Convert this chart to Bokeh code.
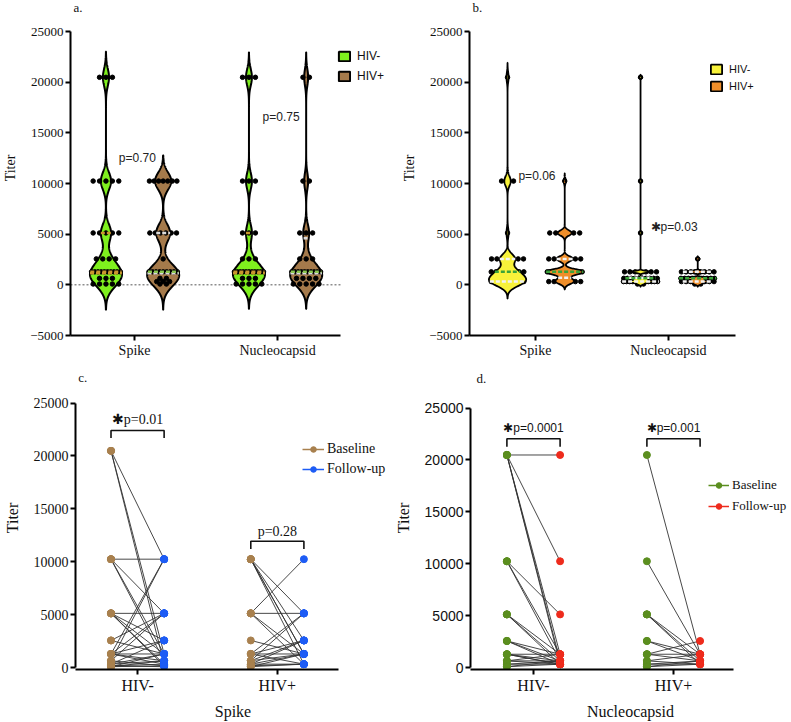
import numpy as np
from bokeh.plotting import figure
from bokeh.layouts import column, row
from bokeh.models import Range1d, FixedTicker, Legend, LegendItem, Label
from bokeh.embed import file_html
from bokeh.resources import INLINE

SERIF = "Liberation Serif"
SANS = "Liberation Sans"

# ------------------------------------------------------------------ data
levels = [80, 320, 640, 1280, 2560, 5120, 10240, 20480]
antigens = ["Spike", "Nucleocapsid"]
hiv_groups = ["HIV-", "HIV+"]
y_ticks_ab = [-5000, 0, 5000, 10000, 15000, 20000, 25000]
y_ticks_cd = [0, 5000, 10000, 15000, 20000, 25000]

# panel a: participants at each titer level (order: levels)
a_spike_neg = [5, 0, 3, 10, 4, 5, 5, 3]
a_spike_pos = [2, 3, 2, 9, 1, 6, 7, 0]
a_nuc_neg = [5, 0, 3, 11, 3, 3, 3, 3]
a_nuc_pos = [5, 0, 4, 10, 3, 3, 2, 2]
a_q1 = [1150, 1150, 1150, 1150]
a_median = [1280, 1280, 1280, 1280]
a_q3 = [5120, 5120, 5120, 4600]
a_bandwidth = [850, 850, 820, 820]
a_pvals = ["p=0.70", "p=0.75"]
a_p_x = [0.89, 1.895]
a_p_y = [12550, 16600]

# panel b
b_spike_neg = [3, 8, 6, 8, 7, 1, 3, 1]
b_spike_pos = [0, 7, 2, 16, 7, 6, 1, 0]
b_nuc_neg = [2, 12, 10, 7, 0, 1, 1, 1]
b_nuc_pos = [2, 8, 10, 8, 1, 0, 0, 0]
b_q1 = [320, 700, 320, 320]
b_median = [1280, 1280, 640, 640]
b_q3 = [2560, 2560, 700, 1280]
b_bandwidth = [480, 260, 90, 90]
b_pvals = ["p=0.06", "\u2731p=0.03"]
b_p_x = [0.872, 1.865]
b_p_y = [10770, 5730]

# panel c: Spike titers, paired baseline -> follow-up
c_neg_base = [20480, 20480, 20480, 10240, 10240, 10240, 10240, 5120, 5120, 5120, 5120, 5120,
              2560, 2560, 1280, 1280, 1280, 1280, 1280, 1280, 640, 640, 640, 320, 320, 320,
              160, 160, 80, 80, 80]
c_neg_fu = [10240, 320, 1280, 10240, 5120, 1280, 640, 5120, 2560, 1280, 320, 160,
            1280, 5120, 1280, 10240, 5120, 2560, 320, 640, 5120, 10240, 160, 2560, 640, 1280,
            320, 80, 1280, 640, 160]
c_pos_base = [10240, 10240, 10240, 10240, 10240, 5120, 5120, 5120, 5120, 2560, 1280, 1280,
              1280, 1280, 640, 640, 640, 320, 320, 320, 160, 80, 80]
c_pos_fu = [5120, 2560, 1280, 320, 1280, 10240, 5120, 320, 1280, 1280, 1280, 2560,
            320, 5120, 5120, 1280, 2560, 1280, 320, 2560, 320, 320, 1280]
c_pvals = ["\u2731p=0.01", "p=0.28"]
c_p_y = [23400, 12870]
c_br_top = [22400, 11940]
c_br_tip = [21700, 11200]

# panel d: Nucleocapsid titers, paired baseline -> follow-up
d_neg_base = [20480, 20480, 20480, 20480, 20480, 10240, 10240, 10240, 5120, 5120, 5120,
              2560, 2560, 2560, 1280, 1280, 1280, 1280, 640, 640, 640, 320, 320, 80, 80]
d_neg_fu = [20480, 10240, 640, 320, 1280, 5120, 640, 1280, 640, 320, 1280,
            640, 320, 1280, 320, 640, 1280, 320, 320, 640, 1280, 320, 640, 320, 640]
d_pos_base = [20480, 10240, 5120, 5120, 5120, 2560, 2560, 1280, 1280, 1280, 640, 640,
              320, 320, 80, 80]
d_pos_fu = [1280, 1280, 640, 1280, 320, 1280, 640, 2560, 1280, 640, 1280, 320,
            640, 320, 640, 320]
d_pvals = ["\u2731p=0.0001", "\u2731p=0.001"]
d_p_y = [23090, 23090]
d_br_top = [22040, 22040]
d_br_tip = [21280, 21280]


# ------------------------------------------------------------------ helpers
def kde(vals, bw, n=500, ext=3.0):
    v = np.asarray(vals, float)
    y = np.linspace(v.min() - ext * bw, v.max() + ext * bw, n)
    d = np.exp(-0.5 * ((y[:, None] - v[None, :]) / bw) ** 2).sum(axis=1)
    return y, d / d.max()


def make_fig(width, height, left, bottom, x0, px_per_x, y_lo, y_hi, y_lo_px, y_hi_px, pad_px):
    """Frame fills the figure right/top; axes are limited with bounds.
    y_lo_px / y_hi_px are pixel rows (from the figure's top) of y_lo / y_hi."""
    frame_w = width - left
    per_px = (y_hi - y_lo) / (y_lo_px - y_hi_px)
    y_top = y_hi + y_hi_px * per_px
    y_bot = y_lo - pad_px * per_px
    p = figure(width=width, height=height, output_backend="svg", toolbar_location=None,
               x_range=Range1d(x0, x0 + frame_w / px_per_x), y_range=Range1d(y_bot, y_top),
               min_border_left=left, min_border_right=0, min_border_top=0,
               min_border_bottom=bottom)
    return p


def style(p, x_bounds, y_bounds, ytick_font, ytick_size, xtick_size, lab_size,
          ylab_standoff, xlab_standoff):
    for ax in (p.xaxis[0], p.yaxis[0]):
        ax.axis_line_width = 2
        ax.axis_line_color = "black"
        ax.major_tick_line_width = 2
        ax.major_tick_line_color = "black"
        ax.major_tick_out = 5
        ax.major_tick_in = 0
        ax.minor_tick_line_color = None
        ax.major_label_text_color = "#111111"
        ax.axis_label_text_font = SERIF
        ax.axis_label_text_font_style = "normal"
        ax.axis_label_text_color = "#111111"
        ax.axis_label_text_font_size = lab_size
    p.xaxis[0].bounds = x_bounds
    p.yaxis[0].bounds = y_bounds
    p.yaxis[0].major_label_text_font = ytick_font
    p.yaxis[0].major_label_text_font_size = ytick_size
    p.yaxis[0].major_label_standoff = 2
    p.yaxis[0].axis_label_standoff = ylab_standoff
    p.xaxis[0].major_label_text_font = SERIF
    p.xaxis[0].major_label_text_font_size = xtick_size
    p.xaxis[0].major_label_standoff = 2
    p.xaxis[0].axis_label_standoff = xlab_standoff
    p.xgrid.grid_line_color = None
    p.ygrid.grid_line_color = None
    p.outline_line_color = None


def violin_panel(p, counts_list, centers, bws, halfw, dot_sp, fills, line_w,
                 q1s, meds, q3s, med_cols, q_cols, dots_first):
    shape_x = [[], []]
    shape_y = [[], []]
    dx, dy = [], []
    sx0, sx1, sy, sc = [], [], [], []
    for i, (counts, cx, bw) in enumerate(zip(counts_list, centers, bws)):
        vals = np.repeat(levels, counts).astype(float)
        y, d = kde(vals, bw)
        shape_x[i % 2].append(list(np.concatenate([cx + halfw * d, (cx - halfw * d)[::-1]])))
        shape_y[i % 2].append(list(np.concatenate([y, y[::-1]])))
        for lev, k in zip(levels, counts):
            if k == 0:
                continue
            s = min(dot_sp, 2 * halfw / k)
            dx += list(cx + (np.arange(k) - (k - 1) / 2) * s)
            dy += [lev] * k
        for q, col in ((q1s[i], q_cols[i % 2]), (q3s[i], q_cols[i % 2]), (meds[i], med_cols[i % 2])):
            hw = halfw * float(np.interp(q, y, d))
            sx0.append(cx - hw)
            sx1.append(cx + hw)
            sy.append(q)
            sc.append(col)
    if dots_first:
        p.scatter(dx, dy, size=4.5, color="black")
    rends = []
    for g in range(2):
        r = p.patches(shape_x[g], shape_y[g], fill_color=fills[g], line_color="black",
                      line_width=line_w)
        rends.append(r)
    if not dots_first:
        p.scatter(dx, dy, size=4.5, color="black")
    p.segment(x0=sx0, y0=sy, x1=sx1, y1=sy, line_color=sc, line_width=2.5, line_dash="4 2")
    return rends


def legend_box(p, items, loc, font, size, glyph_w, glyph_h, label_h, spacing, standoff):
    lg = Legend(items=items, location=loc, orientation="vertical",
                border_line_color=None, background_fill_alpha=0,
                padding=1, margin=0, spacing=spacing,
                glyph_width=glyph_w, glyph_height=glyph_h, label_height=label_h,
                label_width=10, label_standoff=standoff,
                label_text_font=font, label_text_font_size=size,
                label_text_color="#111111")
    p.add_layout(lg, "center")


def panel_tag(p, x, y, text):
    p.add_layout(Label(x=x, y=y, text=text, text_font=SERIF, text_font_size="13px",
                       text_baseline="middle", text_color="#111111"))


# ------------------------------------------------------------------ panel a
a_x0, a_x1 = 0.552, 2.44
pa = make_fig(390, 366, 70, 31, a_x0, 143, -5000, 25000, 335, 31, 0)
style(pa, (a_x0, a_x1), (-5000, 25000), SERIF, "13px", "14px", "14px", 9, 2)
pa.yaxis.axis_label = "Titer"
pa.yaxis.ticker = FixedTicker(ticks=y_ticks_ab)
pa.xaxis.ticker = FixedTicker(ticks=[1, 2])
pa.xaxis.major_label_overrides = {1: antigens[0], 2: antigens[1]}
pa.line([a_x0, a_x1], [0, 0], line_color="#555555", line_dash="2 2", line_width=1)
a_cent = [1 - 0.2, 1 + 0.2, 2 - 0.2, 2 + 0.2]
ra = violin_panel(pa, [a_spike_neg, a_spike_pos, a_nuc_neg, a_nuc_pos], a_cent, a_bandwidth,
                  0.112, 0.045, ["#7ff01e", "#a57a4b"], 2,
                  a_q1, a_median, a_q3, ["#c9962e", "#8cc850"], ["#c9962e", "#dcdcdc"], False)
for t, x, y in zip(a_pvals, a_p_x, a_p_y):
    pa.add_layout(Label(x=x, y=y, text=t, text_font=SANS, text_font_size="12px",
                        text_baseline="middle", text_color="#222222"))
panel_tag(pa, 0.573, 27370, "a.")
legend_box(pa, [LegendItem(label=hiv_groups[0], renderers=[ra[0]]),
                LegendItem(label=hiv_groups[1], renderers=[ra[1]])],
           (267, 252), SANS, "12px", 14, 12, 14, 6, 6)

# ------------------------------------------------------------------ panel b
b_x0, b_x1 = 0.504, 2.504
pb = make_fig(400, 366, 79, 31, b_x0, 133, -5000, 25000, 335, 31, 0)
style(pb, (b_x0, b_x1), (-5000, 25000), SERIF, "13px", "14px", "14px", 9, 2)
pb.yaxis.axis_label = "Titer"
pb.yaxis.ticker = FixedTicker(ticks=y_ticks_ab)
pb.xaxis.ticker = FixedTicker(ticks=[1, 2])
pb.xaxis.major_label_overrides = {1: antigens[0], 2: antigens[1]}
b_cent = [1 - 0.21, 1 + 0.22, 2 - 0.21, 2 + 0.22]
rb = violin_panel(pb, [b_spike_neg, b_spike_pos, b_nuc_neg, b_nuc_pos], b_cent, b_bandwidth,
                  0.14, 0.045, ["#f8f23a", "#ef8e2a"], 1.8,
                  b_q1, b_median, b_q3, ["#3aa33a", "#3aa33a"], ["#f2f2f2", "#f2f2f2"], True)
for t, x, y in zip(b_pvals, b_p_x, b_p_y):
    pb.add_layout(Label(x=x, y=y, text=t, text_font=SANS, text_font_size="12px",
                        text_baseline="middle", text_color="#222222"))
panel_tag(pb, 0.527, 27370, "b.")
legend_box(pb, [LegendItem(label=hiv_groups[0], renderers=[rb[0]]),
                LegendItem(label=hiv_groups[1], renderers=[rb[1]])],
           (240, 242), SANS, "11px", 14, 12, 14, 3, 6)


# ------------------------------------------------------------------ panels c, d
def paired_panel(p, neg_b, neg_f, pos_b, pos_f, colors, off):
    xs, ys = [], []
    bx, by, fx, fy = [], [], [], []
    for cat, base, fu in ((1, neg_b, neg_f), (2, pos_b, pos_f)):
        for b, f in zip(base, fu):
            xs.append([cat - off, cat + off])
            ys.append([b, f])
            bx.append(cat - off)
            by.append(b)
            fx.append(cat + off)
            fy.append(f)
    p.multi_line(xs, ys, line_color="#333333", line_width=0.9)
    nan = [float("nan")]
    lb = p.line(nan, nan, line_color=colors[0], line_width=1.5)
    lf = p.line(nan, nan, line_color=colors[1], line_width=1.5)
    sb = p.scatter(bx, by, size=7, color=colors[0])
    sf = p.scatter(fx, fy, size=7, color=colors[1])
    return [LegendItem(label="Baseline", renderers=[lb, sb]),
            LegendItem(label="Follow-up", renderers=[lf, sf])]


def bracket(p, off, tops, tips, texts, ytxt, font, size):
    for cat, top, tip, t, yt in zip((1, 2), tops, tips, texts, ytxt):
        p.line([cat - off, cat - off, cat + off, cat + off], [tip, top, top, tip],
               line_color="#111111", line_width=1.6)
        p.add_layout(Label(x=cat, y=yt, text=t, text_font=font, text_font_size=size,
                           text_align="center", text_baseline="middle", text_color="#111111"))


c_x0, c_x1 = 0.556, 2.436
pc = make_fig(390, 356, 70, 49, c_x0, 142, 0, 25000, 305, 37, 2)
style(pc, (c_x0, c_x1), (0, 25000), SERIF, "14px", "16px", "16px", 10, 6)
pc.yaxis.axis_label = "Titer"
pc.xaxis.axis_label = antigens[0]
pc.yaxis.ticker = FixedTicker(ticks=y_ticks_cd)
pc.xaxis.ticker = FixedTicker(ticks=[1, 2])
pc.xaxis.major_label_overrides = {1: hiv_groups[0], 2: hiv_groups[1]}
items_c = paired_panel(pc, c_neg_base, c_neg_fu, c_pos_base, c_pos_fu, ["#a8804e", "#1d5cf5"], 0.19)
bracket(pc, 0.19, c_br_top, c_br_tip, c_pvals, c_p_y, SERIF, "14px")
panel_tag(pc, 0.575, 27425, "c.")
legend_box(pc, items_c, (227, 192), SERIF, "14px", 22, 14, 16, 4, 3)

d_x0, d_x1 = 0.55, 2.43
pd_ = make_fig(400, 356, 80, 50, d_x0, 140, 0, 25000, 304, 42, 2)
style(pd_, (d_x0, d_x1), (0, 25000), SANS, "14px", "16px", "16px", 10, 6)
pd_.yaxis.axis_label = "Titer"
pd_.xaxis.axis_label = antigens[1]
pd_.yaxis.ticker = FixedTicker(ticks=y_ticks_cd)
pd_.xaxis.ticker = FixedTicker(ticks=[1, 2])
pd_.xaxis.major_label_overrides = {1: hiv_groups[0], 2: hiv_groups[1]}
items_d = paired_panel(pd_, d_neg_base, d_neg_fu, d_pos_base, d_pos_fu, ["#5b8e1f", "#ee2b1c"], 0.19)
bracket(pd_, 0.19, d_br_top, d_br_tip, d_pvals, d_p_y, SANS, "12px")
panel_tag(pd_, 0.593, 27863, "d.")
legend_box(pd_, items_d, (238, 155), SERIF, "13px", 21, 14, 17, 4, 3)

layout = column(row(pa, pb), row(pc, pd_))
open("out.html", "w").write(file_html(layout, INLINE))
